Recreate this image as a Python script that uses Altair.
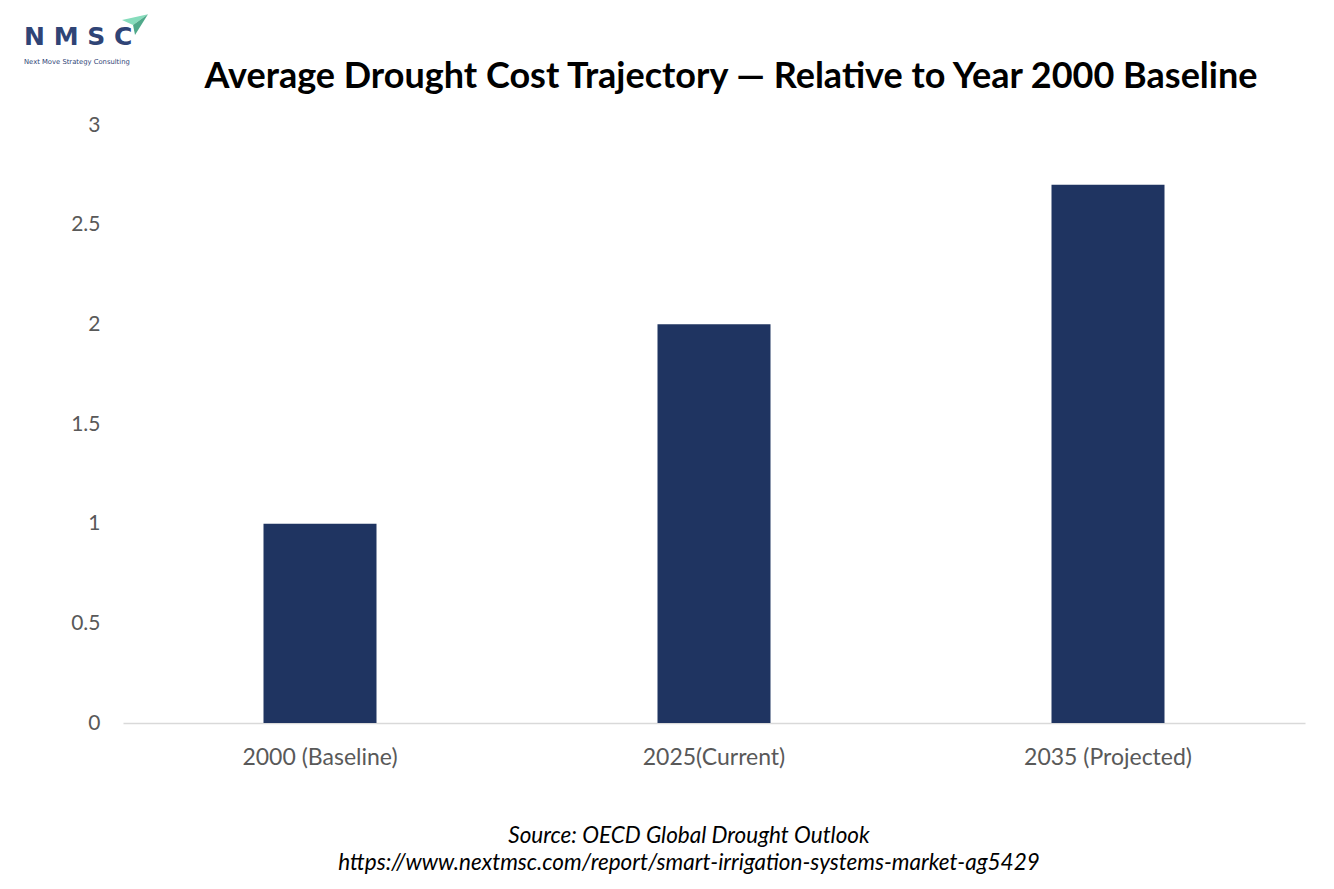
import altair as alt
import pandas as pd

categories = ["2000 (Baseline)", "2025(Current)", "2035 (Projected)"]
values = [1.0, 2.0, 2.7]

title_text = "Average Drought Cost Trajectory \u2014 Relative to Year 2000 Baseline"
source_line = "Source: OECD Global Drought Outlook"
url_line = "https://www.nextmsc.com/report/smart-irrigation-systems-market-ag5429"
logo_main = "N M S C"
logo_sub = "Next Move Strategy Consulting"

df = pd.DataFrame({"category": categories, "value": values})
one = pd.DataFrame({"k": [0]})

FONT = "Lato"
BAR = "#1f3461"

bars = alt.Chart(df).mark_bar(color=BAR, width=113).encode(
    x=alt.X(
        "category:N",
        sort=categories,
        title=None,
        scale=alt.Scale(paddingInner=0, paddingOuter=0),
        axis=alt.Axis(
            labelAngle=0,
            labelFontSize=23,
            labelColor="#595959",
            labelFont=FONT,
            ticks=False,
            domainColor="#d9d9d9",
            domainWidth=1.5,
            labelPadding=23,
            grid=False,
        ),
    ),
    y=alt.Y(
        "value:Q",
        title=None,
        scale=alt.Scale(domain=[0, 3], nice=False),
        axis=alt.Axis(
            values=[0, 0.5, 1, 1.5, 2, 2.5, 3],
            format=".1~f",
            labelFontSize=21,
            labelColor="#595959",
            labelFont=FONT,
            ticks=False,
            domain=False,
            grid=False,
            labelPadding=23,
        ),
    ),
)

def text_layer(txt, x, y, size, weight="normal", style="normal", color="black", align="center", font=FONT):
    return alt.Chart(one).mark_text(
        text=txt, fontSize=size, fontWeight=weight, fontStyle=style,
        color=color, align=align, baseline="alphabetic", font=font,
    ).encode(x=alt.value(x), y=alt.value(y))

title = text_layer(title_text, 608, -37, 36, weight="bold")
src = text_layer(source_line, 566, 718, 22.5, style="italic")
url = text_layer(url_line, 566, 745, 22.5, style="italic")
logo1 = text_layer(logo_main, -99, -80, 25, weight="bold", color="#2f4476", align="left", font="DejaVu Sans")
logo2 = text_layer(logo_sub, -99, -61, 6.8, color="#2f4476", align="left", font="DejaVu Sans")

arrow_light = alt.Chart(one).mark_point(
    shape="M-1,-0.15L1,-0.6L-0.15,0.23Z", filled=True, color="#86dcbc", opacity=1, size=676
).encode(x=alt.value(12), y=alt.value(-103))
arrow_dark = alt.Chart(one).mark_point(
    shape="M-0.15,0.23L1,-0.6L0,1Z", filled=True, color="#4fa98a", opacity=1, size=676
).encode(x=alt.value(12), y=alt.value(-103))

chart = alt.layer(bars, title, src, url, logo1, logo2, arrow_light, arrow_dark).properties(
    width=1182,
    height=598,
    autosize=alt.AutoSizeParams(type="none"),
    padding={"left": 115, "top": 117, "right": 21, "bottom": 158},
    background="white",
).configure_view(stroke=None)

chart.save("out.html", embed_options={"renderer": "svg", "actions": False})
